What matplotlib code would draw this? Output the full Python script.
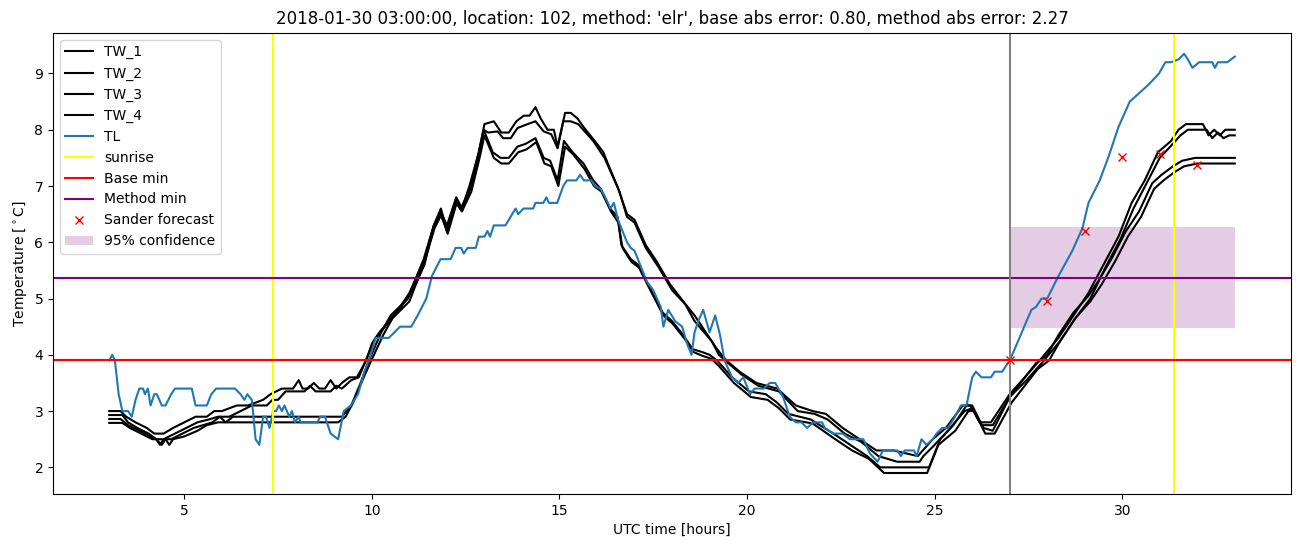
import numpy as np
import matplotlib
matplotlib.use("Agg")
import matplotlib.pyplot as plt

# (hour, temperature)
tw1 = [(3.0, 3.0), (3.3, 3.0), (3.45, 2.9), (3.7, 2.8), (4.0, 2.7), (4.2, 2.6), (4.45, 2.6), (4.7, 2.7),
       (5.0, 2.8), (5.3, 2.9), (5.6, 2.9), (5.8, 3.0), (6.0, 3.0), (6.4, 3.1), (6.7, 3.1), (7.1, 3.2),
       (7.3, 3.3), (7.6, 3.4), (7.9, 3.4), (8.05, 3.55), (8.15, 3.4), (8.3, 3.4), (8.45, 3.5), (8.6, 3.4),
       (8.75, 3.4), (8.9, 3.55), (9.05, 3.4), (9.2, 3.5), (9.4, 3.6), (9.6, 3.6), (9.85, 3.9), (10.0, 4.2),
       (10.2, 4.4), (10.45, 4.6), (10.7, 4.8), (11.0, 5.1), (11.2, 5.4), (11.4, 5.7), (11.65, 6.3),
       (11.83, 6.55), (12.0, 6.3), (12.25, 6.8), (12.4, 6.6), (12.6, 7.0), (12.85, 7.6), (13.0, 8.1),
       (13.25, 8.15), (13.45, 7.95), (13.65, 7.95), (13.85, 8.15), (14.05, 8.25), (14.2, 8.25), (14.36, 8.4),
       (14.5, 8.2), (14.68, 8.0), (14.85, 8.0), (14.95, 7.7), (15.15, 8.3), (15.3, 8.3), (15.48, 8.2),
       (15.64, 8.05), (15.82, 7.9), (16.0, 7.75), (16.17, 7.6), (16.35, 7.3), (16.54, 7.0), (16.8, 6.5),
       (17.0, 6.4), (17.3, 5.95), (17.6, 5.65), (17.95, 5.25), (18.3, 4.95), (18.6, 4.7), (19.0, 4.3),
       (19.2, 4.1), (19.45, 3.9), (19.8, 3.7), (20.25, 3.5), (20.8, 3.4), (21.3, 3.1), (21.75, 3.0),
       (22.1, 2.95), (22.55, 2.7), (23.0, 2.5), (23.45, 2.3), (23.9, 2.3), (24.55, 2.2), (24.95, 2.5),
       (25.3, 2.7), (25.75, 3.1), (25.95, 3.1), (26.2, 2.8), (26.5, 2.8), (27.0, 3.3), (27.4, 3.6),
       (27.8, 3.9), (28.3, 4.3), (28.7, 4.7), (29.1, 5.1), (29.5, 5.6), (29.9, 6.1), (30.25, 6.7),
       (30.6, 7.1), (30.95, 7.6), (31.3, 7.8), (31.5, 8.0), (31.7, 8.1), (32.15, 8.1), (32.3, 7.9),
       (32.45, 8.0), (32.6, 7.9), (32.75, 8.0), (33.0, 8.0)]

tw2 = [(3.0, 2.93), (3.35, 2.93), (3.5, 2.8), (3.75, 2.7), (4.05, 2.6), (4.25, 2.5), (4.35, 2.4), (4.45, 2.5),
       (4.75, 2.6), (5.05, 2.7), (5.35, 2.8), (5.65, 2.85), (5.9, 2.9), (6.2, 2.9), (6.5, 3.0), (6.8, 3.1),
       (7.2, 3.1), (7.35, 3.2), (7.5, 3.2), (7.7, 3.35), (8.2, 3.35), (8.35, 3.45), (8.5, 3.35), (8.9, 3.35),
       (9.05, 3.45), (9.2, 3.4), (9.45, 3.55), (9.65, 3.6), (9.9, 4.0), (10.1, 4.3), (10.35, 4.5), (10.6, 4.7),
       (10.95, 5.0), (11.2, 5.3), (11.4, 5.6), (11.62, 6.2), (11.83, 6.5), (12.0, 6.2), (12.25, 6.7),
       (12.4, 6.55), (12.62, 6.95), (12.85, 7.55), (12.98, 8.0), (13.1, 7.95), (13.35, 7.97), (13.5, 7.85),
       (13.7, 7.85), (13.88, 8.03), (14.15, 8.1), (14.36, 8.15), (14.58, 7.97), (14.78, 7.92), (14.95, 7.67),
       (15.1, 8.15), (15.3, 8.15), (15.5, 8.1), (15.7, 7.95), (15.9, 7.8), (16.05, 7.65), (16.2, 7.5),
       (16.4, 7.2), (16.6, 6.9), (16.8, 6.45), (17.0, 6.35), (17.3, 5.9), (17.65, 5.55), (18.0, 5.15),
       (18.35, 4.9), (18.6, 4.6), (19.05, 4.25), (19.25, 4.0), (19.5, 3.85), (19.85, 3.65), (20.3, 3.45),
       (20.85, 3.35), (21.35, 3.0), (21.8, 2.95), (22.15, 2.85), (22.6, 2.6), (23.05, 2.45), (23.5, 2.2),
       (24.0, 2.1), (24.6, 2.1), (24.7, 2.2), (25.0, 2.4), (25.35, 2.65), (25.8, 3.0), (26.0, 3.05),
       (26.25, 2.75), (26.55, 2.75), (27.0, 3.25), (27.45, 3.55), (27.85, 3.85), (28.35, 4.25), (28.75, 4.65),
       (29.15, 5.0), (29.55, 5.55), (29.95, 6.05), (30.3, 6.6), (30.65, 7.05), (31.0, 7.5), (31.35, 7.75),
       (31.55, 7.9), (31.75, 8.0), (32.1, 8.0), (32.25, 8.0), (32.4, 7.85), (32.55, 7.95), (32.7, 7.85),
       (32.85, 7.9), (33.0, 7.9)]

tw3 = [(3.0, 2.86), (3.3, 2.86), (3.5, 2.75), (3.8, 2.65), (4.1, 2.55), (4.25, 2.5), (4.4, 2.4), (4.5, 2.5),
       (4.65, 2.5), (4.95, 2.6), (5.25, 2.7), (5.5, 2.75), (5.75, 2.8), (5.95, 2.9), (6.1, 2.8), (6.3, 2.9),
       (9.2, 2.9), (9.45, 3.1), (9.7, 3.5), (9.92, 3.9), (10.25, 4.4), (10.5, 4.7), (10.96, 5.0),
       (11.38, 5.7), (11.65, 6.3), (11.84, 6.6), (12.0, 6.2), (12.24, 6.77), (12.37, 6.6), (12.63, 6.97),
       (12.85, 7.6), (12.98, 8.0), (13.22, 7.6), (13.43, 7.5), (13.65, 7.5), (13.88, 7.7), (14.1, 7.75),
       (14.36, 7.85), (14.58, 7.5), (14.75, 7.45), (14.95, 7.1), (15.12, 7.8), (15.35, 7.6), (15.64, 7.4),
       (15.9, 7.1), (16.1, 6.95), (16.35, 6.6), (16.55, 6.45), (16.65, 5.95), (16.9, 5.7), (17.1, 5.6),
       (17.4, 5.2), (17.75, 4.75), (18.0, 4.6), (18.3, 4.35), (18.55, 4.1), (18.8, 4.05), (19.0, 4.0),
       (19.2, 3.9), (19.6, 3.6), (20.05, 3.35), (20.5, 3.3), (20.8, 3.15), (21.1, 2.95), (21.7, 2.85),
       (22.3, 2.6), (22.75, 2.4), (23.2, 2.2), (23.55, 2.0), (24.85, 2.0), (25.15, 2.5), (25.5, 2.75),
       (25.85, 3.1), (26.0, 3.1), (26.3, 2.7), (26.55, 2.65), (27.0, 3.25), (27.35, 3.55), (27.7, 3.85),
       (28.0, 4.0), (28.3, 4.35), (28.7, 4.75), (29.1, 5.05), (29.4, 5.35), (29.75, 5.75), (30.1, 6.2),
       (30.45, 6.55), (30.8, 7.05), (31.05, 7.2), (31.35, 7.35), (31.6, 7.45), (31.95, 7.5), (33.0, 7.5)]

tw4 = [(3.0, 2.79), (3.35, 2.79), (3.55, 2.7), (3.85, 2.6), (4.15, 2.5), (4.5, 2.5), (4.6, 2.4), (4.7, 2.5),
       (5.0, 2.55), (5.35, 2.65), (5.6, 2.75), (5.9, 2.8), (9.1, 2.8), (9.3, 2.9), (9.5, 3.15), (9.75, 3.55),
       (9.95, 3.85), (10.3, 4.35), (10.55, 4.65), (11.0, 4.95), (11.4, 5.65), (11.67, 6.25), (11.86, 6.5),
       (12.02, 6.15), (12.26, 6.7), (12.4, 6.55), (12.65, 6.9), (12.87, 7.5), (13.0, 7.9), (13.25, 7.5),
       (13.45, 7.4), (13.65, 7.4), (13.9, 7.6), (14.12, 7.65), (14.38, 7.78), (14.6, 7.4), (14.78, 7.35),
       (14.97, 7.0), (15.15, 7.7), (15.38, 7.55), (15.67, 7.3), (15.92, 7.0), (16.12, 6.9), (16.37, 6.55),
       (16.57, 6.35), (16.68, 5.9), (16.92, 5.65), (17.12, 5.55), (17.42, 5.15), (17.77, 4.7), (18.02, 4.55),
       (18.32, 4.3), (18.57, 4.05), (18.82, 3.98), (19.05, 3.93), (19.25, 3.8), (19.65, 3.5), (20.1, 3.25),
       (20.55, 3.2), (20.85, 3.05), (21.15, 2.85), (21.75, 2.78), (22.35, 2.5), (22.8, 2.3), (23.25, 2.15),
       (23.65, 1.9), (24.8, 1.9), (25.1, 2.4), (25.55, 2.65), (25.9, 3.0), (26.05, 3.0), (26.35, 2.6),
       (26.6, 2.6), (27.05, 3.15), (27.4, 3.45), (27.75, 3.75), (28.05, 3.9), (28.35, 4.25), (28.75, 4.65),
       (29.15, 4.95), (29.45, 5.25), (29.8, 5.65), (30.15, 6.1), (30.5, 6.45), (30.85, 6.95), (31.1, 7.1),
       (31.4, 7.25), (31.65, 7.35), (32.0, 7.4), (33.0, 7.4)]

tl = [(3.0, 3.9), (3.08, 4.0), (3.15, 3.9), (3.25, 3.3), (3.35, 3.0), (3.5, 3.0), (3.6, 2.9), (3.7, 3.2),
      (3.8, 3.4), (3.9, 3.4), (3.95, 3.3), (4.03, 3.4), (4.1, 3.1), (4.2, 3.3), (4.27, 3.3), (4.4, 3.1),
      (4.5, 3.1), (4.65, 3.3), (4.75, 3.4), (5.2, 3.4), (5.3, 3.1), (5.6, 3.1), (5.72, 3.3), (5.85, 3.4),
      (6.35, 3.4), (6.5, 3.3), (6.6, 3.2), (6.68, 3.3), (6.8, 3.2), (6.9, 2.5), (7.0, 2.4), (7.1, 2.9),
      (7.18, 2.9), (7.27, 2.7), (7.37, 3.0), (7.45, 3.0), (7.52, 3.1), (7.6, 3.0), (7.67, 3.1), (7.8, 2.9),
      (7.87, 3.0), (7.95, 2.8), (8.05, 2.9), (8.1, 2.8), (8.55, 2.8), (8.62, 2.9), (8.75, 2.9), (8.9, 2.6),
      (9.1, 2.5), (9.25, 3.0), (9.44, 3.1), (9.63, 3.3), (9.8, 3.7), (9.97, 4.0), (10.1, 4.3), (10.45, 4.3),
      (10.6, 4.4), (10.75, 4.5), (11.05, 4.5), (11.22, 4.7), (11.45, 5.0), (11.6, 5.4), (11.83, 5.7),
      (12.1, 5.7), (12.23, 5.9), (12.38, 5.9), (12.45, 5.8), (12.55, 5.9), (12.77, 5.9), (12.85, 6.1),
      (13.0, 6.1), (13.08, 6.2), (13.15, 6.1), (13.25, 6.3), (13.56, 6.3), (13.83, 6.6), (13.9, 6.5),
      (14.04, 6.6), (14.3, 6.6), (14.36, 6.7), (14.57, 6.7), (14.65, 6.8), (14.72, 6.7), (14.94, 6.7),
      (15.1, 7.0), (15.2, 7.1), (15.45, 7.1), (15.55, 7.2), (15.65, 7.1), (15.85, 7.1), (15.95, 7.0),
      (16.1, 6.95), (16.22, 6.8), (16.36, 6.6), (16.45, 6.7), (16.56, 6.4), (16.68, 6.2), (16.8, 6.0),
      (16.9, 5.9), (17.0, 5.85), (17.15, 5.6), (17.33, 5.3), (17.5, 5.15), (17.7, 4.85), (17.77, 4.5),
      (17.9, 4.8), (18.08, 4.6), (18.27, 4.5), (18.4, 4.2), (18.52, 4.0), (18.6, 4.4), (18.7, 4.6),
      (18.83, 4.8), (19.0, 4.4), (19.15, 4.7), (19.28, 4.35), (19.4, 3.9), (19.6, 3.6), (19.76, 3.5),
      (19.9, 3.6), (20.08, 3.3), (20.2, 3.4), (20.45, 3.4), (20.6, 3.5), (20.75, 3.5), (20.96, 3.25),
      (21.14, 2.9), (21.3, 2.8), (21.45, 2.8), (21.6, 2.7), (21.76, 2.8), (22.0, 2.8), (22.07, 2.7),
      (22.3, 2.6), (22.55, 2.6), (22.74, 2.5), (23.1, 2.5), (23.27, 2.25), (23.48, 2.1), (23.62, 2.3),
      (24.0, 2.3), (24.1, 2.2), (24.2, 2.3), (24.45, 2.3), (24.52, 2.2), (24.65, 2.5), (24.78, 2.4),
      (24.95, 2.5), (25.05, 2.6), (25.2, 2.7), (25.35, 2.7), (25.5, 2.85), (25.7, 3.1), (25.85, 3.1),
      (26.0, 3.6), (26.1, 3.7), (26.25, 3.6), (26.5, 3.6), (26.6, 3.7), (26.8, 3.7), (27.0, 3.9),
      (27.26, 4.3), (27.45, 4.6), (27.58, 4.8), (27.7, 4.85), (27.85, 5.0), (28.0, 5.0), (28.3, 5.4),
      (28.67, 5.85), (28.94, 6.25), (29.1, 6.7), (29.4, 7.1), (29.65, 7.55), (29.9, 8.05), (30.2, 8.5),
      (30.45, 8.65), (30.7, 8.8), (30.98, 9.0), (31.15, 9.2), (31.3, 9.2), (31.5, 9.25), (31.65, 9.35),
      (31.75, 9.25), (31.87, 9.1), (32.05, 9.2), (32.4, 9.2), (32.47, 9.1), (32.55, 9.2), (32.8, 9.2),
      (33.0, 9.3)]

sunrise = [7.37, 31.37]
forecast_start = 27.0
base_min = 3.9
method_min = 5.36
forecast_hours = [27, 28, 29, 30, 31, 32]
forecast_vals = [3.9, 4.96, 6.2, 7.51, 7.57, 7.38]
conf_hours = [27.0, 33.0]
conf_low = 4.47
conf_high = 6.27

fig = plt.figure(figsize=(13.02, 5.47), dpi=100)
ax = fig.add_axes([0.0407, 0.097, 0.9509, 0.843])

for name, series in [('TW_1', tw1), ('TW_2', tw2), ('TW_3', tw3), ('TW_4', tw4)]:
    h, v = zip(*series)
    ax.plot(h, v, color='black', label=name)
h, v = zip(*tl)
ax.plot(h, v, color='tab:blue', label='TL')

ax.axvline(sunrise[0], color='yellow', label='sunrise')
ax.axvline(sunrise[1], color='yellow')
ax.axhline(base_min, color='red', label='Base min')
ax.axhline(method_min, color='purple', label='Method min')
ax.axvline(forecast_start, color='gray')
ax.plot(forecast_hours, forecast_vals, 'rx', label='Sander forecast')
ax.fill_between(conf_hours, conf_low, conf_high, color='purple', alpha=0.2, linewidth=0,
                label='95% confidence')

ax.set_title("2018-01-30 03:00:00, location: 102, method: 'elr', base abs error: 0.80, method abs error: 2.27")
ax.set_xlabel('UTC time [hours]')
ax.set_ylabel('Temperature [$^\\circ$C]')
ax.legend(loc='upper left')

fig.savefig('out.png', dpi=100)
